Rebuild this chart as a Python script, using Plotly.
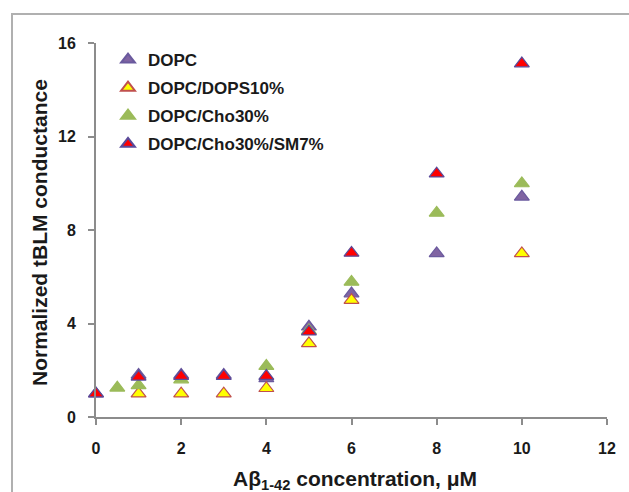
import plotly.graph_objects as go

# Data
dopc_x = [0, 1, 2, 3, 4, 5, 6, 8, 10]
dopc_y = [1.0, 1.8, 1.8, 1.8, 1.65, 3.86, 5.28, 7.0, 9.42]

dops_x = [1, 2, 3, 4, 5, 6, 10]
dops_y = [1.0, 1.0, 1.0, 1.23, 3.15, 5.0, 7.0]

cho_x = [0.5, 1, 2, 4, 5, 6, 8, 10]
cho_y = [1.25, 1.35, 1.6, 2.18, 3.7, 5.78, 8.73, 9.99]

sm_x = [0, 1, 2, 3, 4, 5, 6, 8, 10]
sm_y = [1.0, 1.72, 1.75, 1.75, 1.75, 3.65, 7.02, 10.41, 15.12]

names = ["DOPC", "DOPC/DOPS10%", "DOPC/Cho30%", "DOPC/Cho30%/SM7%"]
fills = ["#8064A2", "#FFFF00", "#9BBB59", "#FF0000"]
edges = ["#6A5A9E", "#C0504D", "#9BBB59", "#5A4A9A"]

x_ticks = [0, 2, 4, 6, 8, 10, 12]
y_ticks = [0, 4, 8, 12, 16]

FONT = "Liberation Sans, Arial, sans-serif"
TXT = "#1a1a1a"

fig = go.Figure()
series = [(dopc_x, dopc_y), (dops_x, dops_y), (cho_x, cho_y), (sm_x, sm_y)]
for i, ((xs, ys), nm) in enumerate(zip(series, names)):
    fig.add_trace(go.Scatter(
        x=xs, y=ys, mode="markers", name="<b>" + nm + "</b>",
        legendgroup=str(i),
        cliponaxis=False,
        marker=dict(symbol="triangle-up", size=13, color=fills[i],
                    line=dict(color=edges[i], width=1.2)),
    ))

fig.update_layout(
    width=629, height=492,
    margin=dict(l=96, r=22, t=43, b=75),
    paper_bgcolor="white", plot_bgcolor="white",
    font=dict(family=FONT, color=TXT),
    showlegend=True,
    legend=dict(x=(108 - 96) / 511, y=(417 - 42) / 374, xanchor="left", yanchor="top",
                bgcolor="rgba(0,0,0,0)", font=dict(size=17, family=FONT, color=TXT),
                traceorder="grouped", tracegroupgap=3, itemsizing="constant"),
    xaxis=dict(range=[0, 12], tickvals=x_ticks, ticktext=["<b>%d</b>" % v for v in x_ticks],
               showgrid=False, zeroline=False, showline=True, linecolor="#8c8c8c", linewidth=2,
               ticks="outside", ticklen=6, tickcolor="#8c8c8c", tickwidth=2,
               ticklabelstandoff=10, tickfont=dict(size=16, family=FONT, color=TXT)),
    yaxis=dict(range=[0, 16], tickvals=y_ticks, ticktext=["<b>%d</b>" % v for v in y_ticks],
               showgrid=False, zeroline=False, showline=True, linecolor="#8c8c8c", linewidth=2,
               ticks="outside", ticklen=6, tickcolor="#8c8c8c", tickwidth=2,
               ticklabelstandoff=9, tickfont=dict(size=16, family=FONT, color=TXT)),
    annotations=[
        dict(text="<b>Normalized tBLM conductance</b>", xref="paper", yref="paper",
             x=(39 - 96) / 511, y=(417 - 233) / 374, textangle=-90, showarrow=False,
             xanchor="center", yanchor="middle", font=dict(size=21, family=FONT, color=TXT)),
        dict(text="<b>Aβ<sub>1-42</sub> concentration, μM</b>", xref="paper", yref="paper",
             x=(355 - 96) / 511, y=(417 - 480) / 374, showarrow=False,
             xanchor="center", yanchor="middle", font=dict(size=21, family=FONT, color=TXT)),
    ],
    shapes=[dict(type="rect", xref="paper", yref="paper",
                 x0=(12 - 96) / 511, x1=1.3, y0=-0.5, y1=(417 - 14) / 374,
                 line=dict(color="#b0b0b0", width=2), fillcolor="rgba(0,0,0,0)", layer="below")],
)

fig.write_html("out.html")
